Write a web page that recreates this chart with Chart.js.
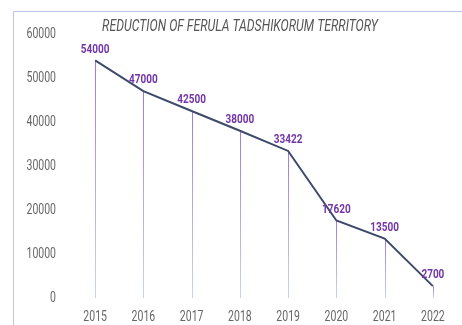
<!DOCTYPE html>
<html>
<head>
<meta charset="utf-8">
<script src="https://cdn.jsdelivr.net/npm/chart.js@4"></script>
<style>
  html, body { margin: 0; padding: 0; background: #fff; }
  #wrap { width: 462px; height: 325px; }
</style>
</head>
<body>
<div id="wrap"><canvas id="myChart"></canvas></div>
<script>
const years = ['2015', '2016', '2017', '2018', '2019', '2020', '2021', '2022'];
const territory = [54000, 47000, 42500, 38000, 33422, 17620, 13500, 2700];
const yTicks = [0, 10000, 20000, 30000, 40000, 50000, 60000];
const chartTitle = 'REDUCTION OF FERULA TADSHIKORUM TERRITORY';

// text squeezed horizontally to look like a condensed face
function narrowText(ctx, text, x, y, squeeze, align) {
    ctx.save();
    ctx.translate(x, y);
    ctx.scale(squeeze, 1);
    ctx.textAlign = align;
    ctx.textBaseline = 'middle';
    ctx.fillText(text, 0, 0);
    ctx.restore();
}

// frame line along top and left edge, plus the title
const framePlugin = {
    id: 'frame',
    beforeDraw(chart) {
        const ctx = chart.ctx;
        ctx.save();
        ctx.strokeStyle = '#b9c5e4';
        ctx.lineWidth = 1;
        ctx.beginPath();
        ctx.moveTo(13.5, chart.height);
        ctx.lineTo(13.5, 11.5);
        ctx.lineTo(chart.width, 11.5);
        ctx.stroke();

        ctx.fillStyle = '#555555';
        ctx.font = "italic 17px Roboto, sans-serif";
        narrowText(ctx, chartTitle, 240, 27, 0.72, 'center');
        ctx.restore();
    }
};

// axis labels, placed with the chart's own scales
const axisLabels = {
    id: 'axisLabels',
    afterDraw(chart) {
        const ctx = chart.ctx;
        const x = chart.scales.x;
        const y = chart.scales.y;
        ctx.save();
        ctx.fillStyle = '#666666';
        ctx.font = "15px Roboto, sans-serif";
        yTicks.forEach(v => {
            narrowText(ctx, String(v), 56, y.getPixelForValue(v), 0.7, 'right');
        });
        years.forEach((lbl, i) => {
            narrowText(ctx, lbl, x.getPixelForValue(i), 317, 0.7, 'center');
        });
        ctx.restore();
    }
};

// vertical lines from each point down to the axis
const dropLines = {
    id: 'dropLines',
    beforeDatasetsDraw(chart) {
        const ctx = chart.ctx;
        const bottom = chart.scales.y.getPixelForValue(0);
        chart.getDatasetMeta(0).data.forEach(pt => {
            const grad = ctx.createLinearGradient(0, pt.y, 0, bottom);
            grad.addColorStop(0, '#a37ad6');
            grad.addColorStop(1, '#c9d3f0');
            ctx.save();
            ctx.strokeStyle = grad;
            ctx.lineWidth = 1;
            ctx.beginPath();
            ctx.moveTo(Math.round(pt.x) + 0.5, pt.y);
            ctx.lineTo(Math.round(pt.x) + 0.5, bottom);
            ctx.stroke();
            ctx.restore();
        });
    }
};

// value labels above the points
const valueLabels = {
    id: 'valueLabels',
    afterDatasetsDraw(chart) {
        const ctx = chart.ctx;
        ctx.save();
        ctx.fillStyle = '#7336a8';
        ctx.font = "bold 13px Roboto, sans-serif";
        chart.getDatasetMeta(0).data.forEach((pt, i) => {
            narrowText(ctx, String(territory[i]), pt.x, pt.y - 11, 0.77, 'center');
        });
        ctx.restore();
    }
};

const ctx = document.getElementById('myChart').getContext('2d');
new Chart(ctx, {
    type: 'line',
    data: {
        labels: years,
        datasets: [{
            data: territory,
            borderColor: '#3d4a6a',
            borderWidth: 2,
            pointRadius: 0,
            tension: 0,
            fill: false
        }]
    },
    options: {
        responsive: true,
        maintainAspectRatio: false,
        animation: false,
        layout: { padding: { top: 34, left: 14, right: 5, bottom: 0 } },
        plugins: {
            legend: { display: false },
            tooltip: { enabled: false },
            title: { display: false }
        },
        scales: {
            x: {
                offset: true,
                grid: { display: false },
                border: { display: false },
                ticks: { display: false },
                afterFit(axis) {
                    axis.height = 27;
                }
            },
            y: {
                min: 0,
                max: 60000,
                grid: { display: false },
                border: { display: false },
                ticks: { display: false, stepSize: 10000 },
                afterFit(axis) {
                    axis.width = 57;
                }
            }
        }
    },
    plugins: [framePlugin, dropLines, valueLabels, axisLabels]
});
</script>
</body>
</html>
